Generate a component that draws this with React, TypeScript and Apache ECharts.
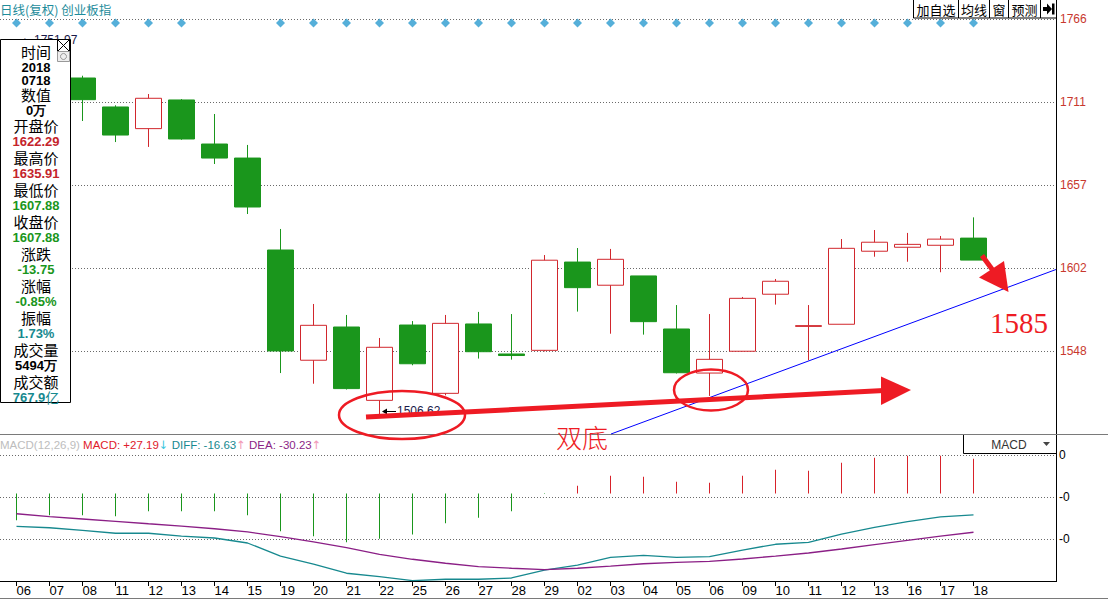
import React, { useEffect, useRef } from 'react';
import * as echarts from 'echarts';

// ---- data ----
const dates = ['06-06','06-07','06-08','06-11','06-12','06-13','06-14','06-15','06-19','06-20','06-21','06-22','06-25','06-26','06-27','06-28','06-29','07-02','07-03','07-04','07-05','07-06','07-09','07-10','07-11','07-12','07-13','07-16','07-17','07-18'];
const opens  = [1748.5, 1736.1, 1727.3, 1708.3, 1694.1, 1712.9, 1684.0, 1674.8, 1614.5, 1542.2, 1564.0, 1515.9, 1565.3, 1520.5, 1566.0, 1546.3, 1548.7, 1606.6, 1591.4, 1597.5, 1562.7, 1533.8, 1548.1, 1585.5, 1564.4, 1565.8, 1613.7, 1616.3, 1617.6, 1622.29];
const closes = [1737.0, 1724.8, 1713.1, 1689.9, 1714.0, 1687.3, 1674.8, 1642.7, 1548.3, 1565.1, 1523.6, 1550.7, 1539.9, 1566.4, 1547.8, 1545.3, 1607.8, 1589.8, 1608.4, 1567.5, 1534.0, 1542.8, 1582.8, 1594.0, 1564.9, 1615.6, 1619.6, 1618.2, 1621.63, 1607.88];
const lows   = [1730.2, 1718.4, 1699.1, 1685.3, 1682.1, 1686.8, 1670.9, 1638.1, 1533.8, 1526.8, 1523.0, 1506.62, 1538.9, 1519.2, 1543.3, 1542.6, 1548.0, 1574.1, 1559.6, 1559.0, 1533.5, 1518.8, 1548.0, 1578.7, 1542.2, 1565.8, 1610.1, 1606.8, 1599.9, 1607.88];
const highs  = [1751.97, 1740.3, 1728.8, 1709.4, 1716.8, 1713.5, 1703.7, 1683.4, 1628.3, 1579.1, 1571.9, 1556.8, 1567.9, 1571.9, 1573.9, 1572.5, 1611.2, 1615.8, 1615.2, 1597.5, 1578.4, 1572.5, 1583.7, 1595.5, 1578.4, 1621.7, 1627.6, 1625.7, 1623.7, 1635.91];
const macdHist = [-20.8, -16.9, -16.9, -17.7, -13.8, -13.8, -13.8, -16.9, -29.4, -33.3, -38.0, -35.3, -32.0, -23.2, -19.0, -13.8, -0.4, 6.0, 13.8, 13.0, 9.1, 8.3, 13.8, 18.5, 17.7, 23.9, 27.8, 29.4, 29.4, 27.19];
const diffLine = [-25.6, -26.7, -28.7, -31.0, -31.0, -33.2, -34.7, -38.6, -48.8, -55.0, -62.2, -64.9, -68.0, -66.9, -66.9, -65.9, -59.7, -55.8, -49.8, -48.2, -49.8, -49.3, -44.1, -39.6, -38.1, -31.6, -26.4, -22.0, -18.3, -16.63];
const deaLine  = [-15.8, -18.1, -19.9, -21.7, -23.6, -25.4, -27.5, -30.0, -33.7, -37.8, -42.3, -47.4, -51.3, -54.4, -57.1, -58.3, -59.3, -58.3, -56.6, -54.8, -53.7, -52.9, -51.1, -48.8, -46.4, -43.3, -39.9, -36.5, -33.2, -30.23];
const eventFlags = [1,1,1,1,1,1,0,0,1,1,1,1,1,1,1,1,1,1,1,1,1,1,1,1,1,1,1,1,1,1];
const eventMarkerLevel = 1763.3;
const priceAxis = { min: 1493.5, max: 1766, step: 54.5 };
const macdAxis = { min: -68.25, max: 30.03, step: 32.76 };
const macdTickLabels = ['', '-0', '-0', '0'];
const padSlots = ['', ' '];
const volumeText = '5494';
const amountText = '767.9';
const buttonLabels = ['加自选', '均线', '窗', '预测'];

const RED = '#d1272d';
const GREEN = '#1a961c';
const ANN = '#ee1b24';
const TEAL = '#17898f';
const PURPLE = '#8b1f86';
const CJK = '"Noto Sans CJK SC"';
const LAT = '"Liberation Sans", Arial';

function buildOption() {
  const n = dates.length;
  const last = n - 1;
  const prevClose = closes[last - 1];
  const chg = closes[last] - prevClose;
  const pct = (chg / prevClose) * 100;
  const amp = ((highs[last] - lows[last]) / prevClose) * 100;
  const cats = dates.concat(padSlots);

  const g: any[] = [];
  const txt = (x: number, y: number, text: string, font: string, fill: string, align = 'left', v = 'middle', z = 50) =>
    g.push({ type: 'text', x, y, z, silent: true, style: { text, font, fill, align, verticalAlign: v, textAlign: align, textVerticalAlign: v } });
  const line = (x1: number, y1: number, x2: number, y2: number, stroke: string, lineWidth = 1, z = 50) =>
    g.push({ type: 'line', z, silent: true, shape: { x1, y1, x2, y2 }, style: { stroke, lineWidth, lineCap: 'butt' } });

  // title
  txt(0, 9, '日线(复权) 创业板指', `12.5px ${CJK}`, '#1e8c9b');
  // buttons
  const bx = [913, 958, 989, 1008, 1040, 1056];
  buttonLabels.forEach((b, i) => {
    g.push({ type: 'rect', z: 50, shape: { x: bx[i] + 0.5, y: -0.5, width: bx[i + 1] - bx[i], height: 18.5 }, style: { fill: '#fff', stroke: '#000', lineWidth: 1 } });
    txt((bx[i] + bx[i + 1]) / 2 + 0.5, 9, b, `13px ${CJK}`, '#000', 'center');
  });
  g.push({ type: 'rect', z: 50, shape: { x: 1040.5, y: -0.5, width: 16, height: 18.5 }, style: { fill: '#fff', stroke: '#000', lineWidth: 1 } });
  g.push({ type: 'polygon', z: 51, shape: { points: [[1043, 7], [1047, 7], [1047, 3.5], [1052, 9], [1047, 14.5], [1047, 11], [1043, 11]] }, style: { fill: '#000' } });
  g.push({ type: 'rect', z: 51, shape: { x: 1052, y: 3.5, width: 2.5, height: 11 }, style: { fill: '#000' } });

  // frame lines
  line(1056.5, 0, 1056.5, 582, '#000', 1, 55);
  line(0, 434.5, 1108, 434.5, '#7a7a7a', 1, 55);
  line(0, 598.5, 1108, 598.5, '#7a7a7a', 1, 55);

  // MACD legend
  g.push({
    type: 'text', x: 0, y: 445, z: 50, silent: true,
    style: {
      text: `{a|MACD(12,26,9)} {b|MACD: +${macdHist[last].toFixed(2)}}{c|↓} {d|DIFF: ${diffLine[last].toFixed(2)}}{e|↑} {f|DEA: ${deaLine[last].toFixed(2)}}{e|↑}`,
      font: `11.5px ${LAT}`, verticalAlign: 'middle', textVerticalAlign: 'middle',
      rich: {
        a: { fill: '#bdbdbd', font: `11.5px ${LAT}` },
        b: { fill: '#e0202a', font: `11.5px ${LAT}` },
        c: { fill: '#39c6e0', font: `11.5px "DejaVu Sans"` },
        d: { fill: TEAL, font: `11.5px ${LAT}` },
        e: { fill: '#f29ab8', font: `11.5px "DejaVu Sans"` },
        f: { fill: PURPLE, font: `11.5px ${LAT}` },
      },
    },
  });
  // MACD selector
  g.push({ type: 'rect', z: 50, shape: { x: 963.5, y: 434.5, width: 93, height: 19 }, style: { fill: '#fff', stroke: '#000', lineWidth: 1 } });
  txt(1009, 444.5, 'MACD', `12px ${LAT}`, '#333', 'center');
  g.push({ type: 'polygon', z: 51, shape: { points: [[1043, 442], [1050, 442], [1046.5, 446]] }, style: { fill: '#444' } });

  // labels for extremes
  txt(22, 40, '←', `11px "DejaVu Sans"`, '#1a1a4a', 'left', 'middle', 90);
  txt(34, 40, highs[0].toFixed(2), `12px ${LAT}`, '#1a1a4a', 'left', 'middle', 90);
  line(383, 411.5, 396, 411.5, '#000', 1, 58);
  g.push({ type: 'polygon', z: 58, shape: { points: [[382, 411.5], [387, 408.5], [387, 414.5]] }, style: { fill: '#000' } });
  txt(397, 411, lows[11].toFixed(2), `12px ${LAT}`, '#1a1a4a', 'left', 'middle', 58);

  // info box
  g.push({ type: 'rect', z: 100, shape: { x: 0.5, y: 39.5, width: 70, height: 363 }, style: { fill: '#fff', stroke: '#000', lineWidth: 1 } });
  g.push({ type: 'rect', z: 101, shape: { x: 57.5, y: 39.5, width: 12, height: 12 }, style: { fill: '#fff', stroke: '#000', lineWidth: 1 } });
  line(58, 40, 69, 51, '#000', 1, 102);
  line(69, 40, 58, 51, '#000', 1, 102);
  g.push({ type: 'rect', z: 101, shape: { x: 57.5, y: 51.5, width: 12, height: 10 }, style: { fill: '#eee', stroke: '#999', lineWidth: 1 } });
  g.push({ type: 'circle', z: 102, shape: { cx: 63.5, cy: 56.5, r: 3 }, style: { fill: 'none', stroke: '#999', lineWidth: 1 } });

  const cx = 36;
  const lab = (y: number, t: string) => txt(cx, y, t, `15px ${CJK}`, '#000', 'center', 'middle', 103);
  const val = (y: number, t: string, c: string) => txt(cx, y, t, `bold 13px ${LAT}`, c, 'center', 'middle', 103);
  lab(51, '时间');
  val(67, '2018', '#000');
  val(80, dates[last].replace('-', ''), '#000');
  const rows: [string, string, string][] = [
    ['数值', '0万', '#000'],
    ['开盘价', opens[last].toFixed(2), '#c4242b'],
    ['最高价', highs[last].toFixed(2), '#c4242b'],
    ['最低价', lows[last].toFixed(2), GREEN],
    ['收盘价', closes[last].toFixed(2), GREEN],
    ['涨跌', chg.toFixed(2), GREEN],
    ['涨幅', pct.toFixed(2) + '%', GREEN],
    ['振幅', amp.toFixed(2) + '%', TEAL],
    ['成交量', volumeText + '万', '#000'],
  ];
  rows.forEach((r, k) => {
    const y = 94 + 31.9 * k;
    lab(y, r[0]);
    val(y + 16, r[1], r[2]);
  });
  lab(94 + 31.9 * 9, '成交额');
  g.push({
    type: 'text', x: cx, y: 94 + 31.9 * 9 + 16, z: 103, silent: true,
    style: {
      text: `{v|${amountText}}{u|亿}`, align: 'center', textAlign: 'center', verticalAlign: 'middle', textVerticalAlign: 'middle',
      rich: { v: { fill: TEAL, font: `bold 13px ${LAT}` }, u: { fill: TEAL, font: `14px ${CJK}` } },
    },
  });

  // hand-drawn annotations
  g.push({ type: 'line', z: 60, silent: true, shape: { x1: 611, y1: 434, x2: 1056, y2: 269.5 }, style: { stroke: '#0000ff', lineWidth: 1 } });
  g.push({ type: 'ellipse', z: 60, silent: true, shape: { cx: 402, cy: 415, rx: 63, ry: 24 }, style: { fill: 'none', stroke: ANN, lineWidth: 2.5 } });
  g.push({ type: 'ellipse', z: 60, silent: true, shape: { cx: 711, cy: 390, rx: 37, ry: 20.5 }, style: { fill: 'none', stroke: ANN, lineWidth: 2.5 } });
  line(366, 417, 884, 390.5, ANN, 5, 61);
  g.push({ type: 'polygon', z: 61, silent: true, shape: { points: [[881, 376.5], [911, 390], [881, 405]] }, style: { fill: ANN } });
  line(982, 255.5, 997, 276, ANN, 5, 61);
  g.push({ type: 'polygon', z: 61, silent: true, shape: { points: [[979, 277.5], [1004, 261], [1008.5, 292]] }, style: { fill: ANN } });
  g.push({ type: 'text', x: 1019, y: 323, z: 62, silent: true, style: { text: '1585', fontSize: 29, fontFamily: 'Liberation Serif', fill: ANN, align: 'center', verticalAlign: 'middle', textAlign: 'center', textVerticalAlign: 'middle' } });
  g.push({ type: 'text', x: 582, y: 436, z: 62, silent: true, style: { text: '双底', fontSize: 26, fontWeight: 300, fontFamily: 'Noto Sans CJK SC', fill: ANN, align: 'center', verticalAlign: 'middle', textAlign: 'center', textVerticalAlign: 'middle' } });

  return {
    animation: false,
    backgroundColor: '#ffffff',
    grid: [
      { left: 0, top: 19, width: 1056, height: 415.5 },
      { left: 0, top: 455, width: 1056, height: 126 },
    ],
    xAxis: [
      { type: 'category', gridIndex: 0, data: cats, boundaryGap: true, show: false, axisLine: { onZero: false } },
      {
        type: 'category', gridIndex: 1, data: cats, boundaryGap: true,
        axisLine: { show: true, onZero: false, lineStyle: { color: '#000', width: 1 } },
        axisTick: { show: true, alignWithLabel: true, length: 5, lineStyle: { color: '#000' }, interval: (i: number, v: string) => v.indexOf('-') > 0 },
        axisLabel: { show: true, interval: 0, align: 'left', margin: 3, color: '#000', fontSize: 13, fontFamily: 'Liberation Sans, Arial', formatter: (v: string) => (v.indexOf('-') > 0 ? v.slice(3) : '') },
        splitLine: { show: false },
      },
    ],
    yAxis: [
      {
        type: 'value', gridIndex: 0, position: 'right', min: priceAxis.min, max: priceAxis.max, interval: priceAxis.step,
        axisLine: { show: false }, axisTick: { show: false },
        axisLabel: { margin: 4, color: '#c8382e', fontSize: 12, fontFamily: 'Liberation Sans, Arial', formatter: (v: number) => (v <= priceAxis.min + 0.01 ? '' : String(Math.floor(v + 1e-6))) },
        splitLine: { show: true, lineStyle: { color: '#6a6a6a', type: [1, 2], width: 1 } },
      },
      {
        type: 'value', gridIndex: 1, position: 'right', min: macdAxis.min, max: macdAxis.max, interval: macdAxis.step,
        axisLine: { show: false }, axisTick: { show: false },
        axisLabel: {
          margin: 3, color: '#000', fontSize: 12, fontFamily: 'Liberation Sans, Arial',
          formatter: (v: number) => macdTickLabels[Math.round((v - macdAxis.min) / macdAxis.step)] ?? '',
        },
        splitLine: { show: true, lineStyle: { color: '#6a6a6a', type: [1, 2], width: 1 } },
      },
    ],
    graphic: { elements: g },
    series: [
      {
        type: 'candlestick', xAxisIndex: 0, yAxisIndex: 0, barWidth: 26, z: 3,
        data: dates.map((_, i) => [opens[i], closes[i], lows[i], highs[i]]),
        itemStyle: { color: '#ffffff', color0: GREEN, borderColor: RED, borderColor0: GREEN, borderWidth: 1 },
      },
      {
        type: 'scatter', xAxisIndex: 0, yAxisIndex: 0, symbol: 'diamond', symbolSize: [9, 9], z: 4,
        itemStyle: { color: '#2b9bd0' },
        data: dates.map((_, i) => (eventFlags[i] ? [i, eventMarkerLevel] : null)).filter((d) => d),
      },
      {
        type: 'bar', xAxisIndex: 1, yAxisIndex: 1, barWidth: 1,
        data: macdHist.map((v) => ({ value: v, itemStyle: { color: v >= 0 ? '#d8222a' : GREEN } })),
      },
      { type: 'line', xAxisIndex: 1, yAxisIndex: 1, data: diffLine, symbol: 'none', lineStyle: { color: TEAL, width: 1.3 } },
      { type: 'line', xAxisIndex: 1, yAxisIndex: 1, data: deaLine, symbol: 'none', lineStyle: { color: PURPLE, width: 1.3 } },
    ],
  };
}

export default function App() {
  const ref = useRef<HTMLDivElement>(null);
  useEffect(() => {
    const chart = echarts.init(ref.current!, null, { renderer: 'svg' });
    chart.setOption(buildOption() as any);
    return () => chart.dispose();
  }, []);
  return <div ref={ref} style={{ position: 'fixed', left: 0, top: 0, width: 1108, height: 599, background: '#fff' }} />;
}
